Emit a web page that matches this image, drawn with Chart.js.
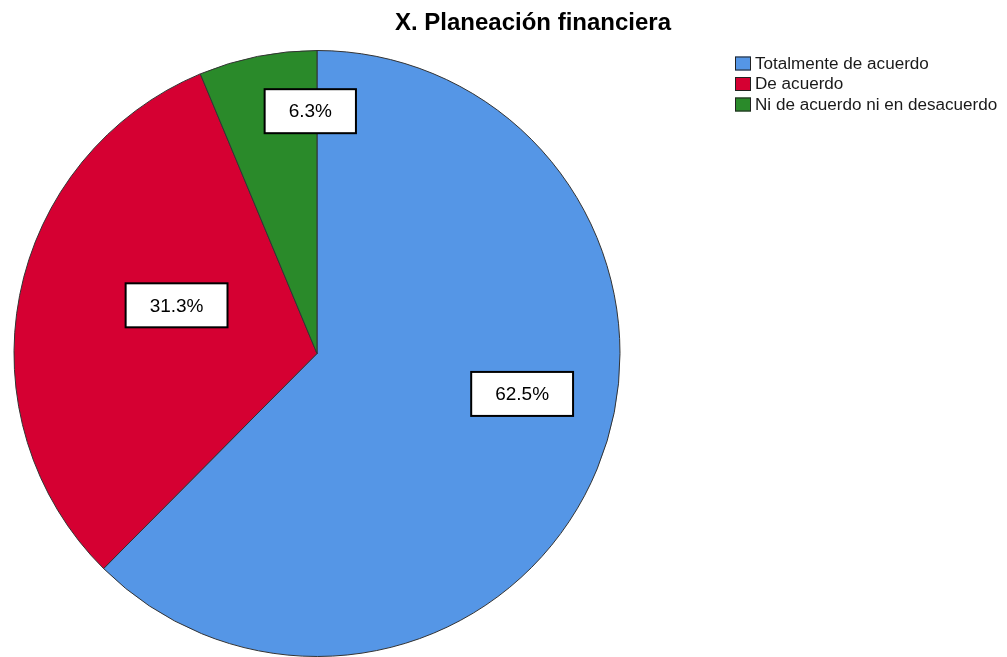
<!DOCTYPE html>
<html>
<head>
<meta charset="utf-8">
<script src="https://cdn.jsdelivr.net/npm/chart.js@4.4.0/dist/chart.umd.min.js"></script>
<style>
  html, body { margin: 0; padding: 0; background: #fff; }
  #wrap { width: 1007px; height: 657px; position: relative; }
</style>
</head>
<body>
<div id="wrap"><canvas id="pieChart"></canvas></div>
<script>
// Datos del grafico
const categorias = ['Totalmente de acuerdo', 'De acuerdo', 'Ni de acuerdo ni en desacuerdo'];
const porcentajes = [62.5, 31.3, 6.3];
const colores = ['#5596E6', '#D50032', '#2A8A2A'];

// donde cae cada etiqueta dentro de su rebanada (fraccion del angulo, fraccion del radio)
const posEtiqueta = [[0.45, 0.69], [0.57, 0.49], [0.93, 0.80]];

const tituloYLeyenda = {
    id: 'tituloYLeyenda',
    afterDraw(chart) {
        const ctx = chart.ctx;
        ctx.save();
        // titulo
        ctx.fillStyle = '#000';
        ctx.font = 'bold 24px "Liberation Sans", Arial, sans-serif';
        ctx.textAlign = 'center';
        ctx.textBaseline = 'middle';
        ctx.fillText('X. Planeación financiera', 533, 23);

        // leyenda
        ctx.font = '16px "Liberation Sans", Arial, sans-serif';
        ctx.textAlign = 'left';
        chart.data.labels.forEach((lab, i) => {
            const y = 63.5 + i * 20.5;
            ctx.fillStyle = colores[i];
            ctx.fillRect(735, y - 7, 16, 14);
            ctx.strokeStyle = '#222';
            ctx.lineWidth = 1;
            ctx.strokeRect(735.5, y - 6.5, 15, 13);
            ctx.fillStyle = '#1a1a1a';
            ctx.save();
            ctx.translate(755, y);
            ctx.scale(1.068, 1);
            ctx.fillText(lab, 0, 1);
            ctx.restore();
        });

        // etiquetas de porcentaje
        const meta = chart.getDatasetMeta(0);
        ctx.font = '19px "Liberation Sans", Arial, sans-serif';
        ctx.textAlign = 'center';
        meta.data.forEach((arc, i) => {
            const p = arc.getProps(['x', 'y', 'startAngle', 'endAngle', 'outerRadius'], true);
            const a = p.startAngle + (p.endAngle - p.startAngle) * posEtiqueta[i][0];
            const r = p.outerRadius * posEtiqueta[i][1];
            const cx = p.x + Math.cos(a) * r;
            const cy = p.y + Math.sin(a) * r;
            const txt = porcentajes[i].toFixed(1) + '%';
            const w = ctx.measureText(txt).width + 48;
            const h = 44;
            ctx.fillStyle = '#fff';
            ctx.fillRect(cx - w / 2, cy - h / 2, w, h);
            ctx.strokeStyle = '#000';
            ctx.lineWidth = 2;
            ctx.strokeRect(cx - w / 2, cy - h / 2, w, h);
            ctx.fillStyle = '#000';
            ctx.fillText(txt, cx, cy + 1);
        });
        ctx.restore();
    }
};

document.addEventListener('DOMContentLoaded', function() {
    const el = document.getElementById('pieChart');
    new Chart(el.getContext('2d'), {
        type: 'pie',
        data: {
            labels: categorias,
            datasets: [{
                data: porcentajes,
                backgroundColor: colores,
                borderColor: '#333',
                borderWidth: 1
            }]
        },
        options: {
            responsive: true,
            maintainAspectRatio: false,
            animation: false,
            layout: { padding: { left: 13, right: 386, top: 50, bottom: 0 } },
            plugins: {
                legend: { display: false },
                title: { display: false },
                tooltip: { enabled: false }
            }
        },
        plugins: [tituloYLeyenda]
    });
});
</script>
</body>
</html>
